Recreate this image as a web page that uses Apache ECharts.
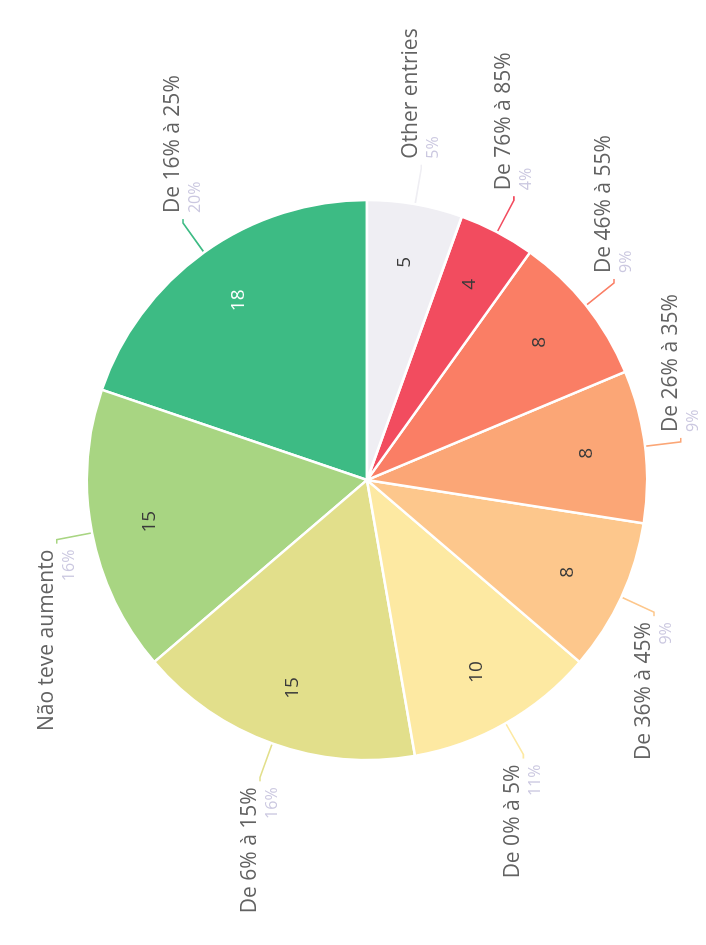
<!DOCTYPE html>
<html>
<head>
<meta charset="utf-8">
<script src="https://cdn.jsdelivr.net/npm/echarts@6/dist/echarts.min.js"></script>
<style>
  html, body { margin: 0; padding: 0; background: #fff; overflow: hidden; }
  /* chart is drawn landscape and turned a quarter turn, like the photo */
  #chart {
    position: absolute; left: 0; top: 0;
    width: 945px; height: 706px;
    transform-origin: 0 0;
    transform: translate(0, 945px) rotate(-90deg);
  }
</style>
</head>
<body>
<div id="chart"></div>
<script>
const categories = ['De 16% à 25%', 'Não teve aumento', 'De 6% à 15%', 'De 0% à 5%', 'De 36% à 45%', 'De 26% à 35%', 'De 46% à 55%', 'De 76% à 85%', 'Other entries'];
const counts = [18, 15, 15, 10, 8, 8, 8, 4, 5];
const shares = ['20%', '16%', '16%', '11%', '9%', '9%', '9%', '4%', '5%'];
const sliceColors = ['#3dbb84', '#a8d582', '#e2df8b', '#fde9a2', '#fdc78c', '#fba676', '#fa7e65', '#f24c5f', '#efeef3'];

const font = '"Open Sans", sans-serif';
const center = [465, 367];

const chart = echarts.init(document.getElementById('chart'));

const slices = categories.map((name, i) => ({
  name,
  value: counts[i],
  itemStyle: { color: sliceColors[i] }
}));

const innerLabels = categories.map((name, i) => ({
  name,
  value: counts[i],
  label: { color: i === 0 ? '#ffffff' : '#3a3a3a' }
}));

chart.setOption({
  backgroundColor: '#ffffff',
  animation: false,
  series: [
    {
      type: 'pie',
      center,
      radius: [0, 280],
      startAngle: 0,
      clockwise: false,
      data: slices,
      itemStyle: { borderColor: '#ffffff', borderWidth: 2.5 },
      emphasis: { disabled: true },
      label: {
        show: true,
        position: 'outside',
        distanceToLabelLine: 6,
        formatter: (p) => '{n|' + p.name + '}\n{p|' + shares[p.dataIndex] + '}',
        rich: {
          n: { fontFamily: font, fontSize: 21, color: '#626262', lineHeight: 25 },
          p: { fontFamily: font, fontSize: 16, color: '#cbc8e0', lineHeight: 20 }
        }
      },
      labelLine: { show: true, length: 36, length2: 4, lineStyle: { width: 1.6 } }
    },
    {
      type: 'pie',
      center,
      radius: [156, 280],
      startAngle: 0,
      clockwise: false,
      silent: true,
      data: innerLabels,
      itemStyle: { color: 'rgba(0,0,0,0)' },
      emphasis: { disabled: true },
      label: {
        show: true,
        position: 'inside',
        formatter: '{c}',
        fontFamily: font,
        fontSize: 19
      },
      labelLine: { show: false }
    }
  ]
});
</script>
</body>
</html>
